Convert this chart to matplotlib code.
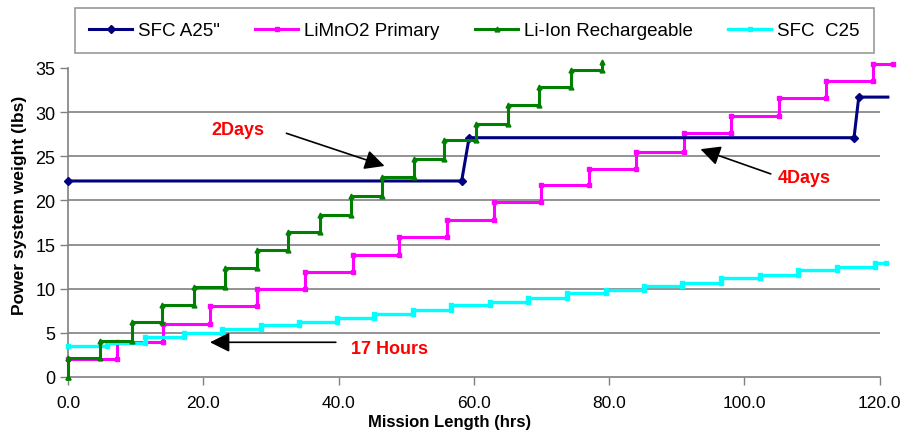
import matplotlib
matplotlib.use("Agg")
import matplotlib.pyplot as plt

plt.rcParams['font.family'] = ['Liberation Sans', 'DejaVu Sans']

# SFC A25" (data points as plotted)
a25_x = [0, 58.2, 59.3, 116.2, 116.9, 121.2]
a25_y = [22.2, 22.2, 27.1, 27.1, 31.7, 31.7]

# LiMnO2 Primary: time of each step and level after it
limno2_x = [0, 7.2, 14.1, 21.0, 28.0, 35.0, 42.1, 49.0, 56.0, 63.0, 70.0, 77.0,
            83.9, 91.1, 98.0, 105.1, 112.0, 119.0]
limno2_y = [2.0, 4.0, 6.0, 8.0, 9.95, 11.9, 13.8, 15.9, 17.8, 19.8, 21.75, 23.6,
            25.5, 27.6, 29.6, 31.6, 33.5, 35.4]
limno2_end = 122.0

# Li-Ion Rechargeable
liion_x = [0, 0, 4.7, 9.4, 13.9, 18.6, 23.2, 27.9, 32.5, 37.2, 41.8, 46.4, 51.1,
           55.6, 60.3, 65.0, 69.7, 74.3, 79.0]
liion_y = [0, 2.1, 4.1, 6.2, 8.2, 10.2, 12.3, 14.4, 16.4, 18.4, 20.5, 22.6, 24.7,
           26.8, 28.7, 30.8, 32.9, 34.8, 35.7]
liion_end = 79.0

# SFC C25
c25_x = [0, 5.7, 11.4, 17.1, 22.8, 28.5, 34.2, 39.7, 45.3, 51.0, 56.6, 62.4,
         68.0, 73.8, 79.5, 85.2, 90.8, 96.6, 102.3, 107.9, 113.7, 119.3]
c25_y = [3.5, 3.9, 4.5, 5.0, 5.4, 5.9, 6.2, 6.65, 7.1, 7.6, 8.1, 8.5,
         9.0, 9.5, 9.9, 10.3, 10.7, 11.2, 11.6, 12.1, 12.5, 12.9]
c25_end = 121.0

xticks = [0, 20, 40, 60, 80, 100, 120]
yticks = [0, 5, 10, 15, 20, 25, 30, 35]


def stairs(xs, ys, x_end):
    # corner points of the staircase, one data point at each corner
    px, py = [], []
    for i in range(len(xs)):
        if i > 0:
            px.append(xs[i])
            py.append(ys[i - 1])
        px.append(xs[i])
        py.append(ys[i])
    if x_end > xs[-1]:
        px.append(x_end)
        py.append(ys[-1])
    return px, py


fig = plt.figure(figsize=(9.06, 4.31), dpi=100)
ax = fig.add_axes([0.075, 0.123, 0.896, 0.717])

ax.plot(a25_x, a25_y, color='#000080', lw=2.2, marker='D', ms=4,
        markevery=[0, 1, 2, 3, 4], label='SFC A25"', clip_on=False, zorder=4)

px, py = stairs(limno2_x, limno2_y, limno2_end)
ax.plot(px, py, color='#FF00FF', lw=2.2, marker='s', ms=3,
        label='LiMnO2 Primary', clip_on=False, zorder=3)

px, py = stairs(liion_x, liion_y, liion_end)
ax.plot(px, py, color='#008000', lw=2.2, marker='^', ms=3.5,
        label='Li-Ion Rechargeable', clip_on=False, zorder=5)

px, py = stairs(c25_x, c25_y, c25_end)
ax.plot(px, py, color='#00FFFF', lw=2.4, marker='s', ms=3,
        label='SFC  C25', clip_on=False, zorder=3)

ax.set_xlim(0, 120)
ax.set_ylim(0, 35)
ax.set_xticks(xticks)
ax.set_xticklabels(['%.1f' % v for v in xticks], fontsize=12.5)
ax.set_yticks(yticks)
ax.set_yticklabels([str(v) for v in yticks], fontsize=13)
ax.tick_params(axis='both', direction='out', color='#808080', length=6, width=1)
ax.tick_params(axis='x', pad=7)
ax.tick_params(axis='y', pad=3)

for v in yticks[1:-1]:
    ax.axhline(v, color='#808080', lw=1.2, zorder=1)

for s in ['top', 'right']:
    ax.spines[s].set_visible(False)
for s in ['left', 'bottom']:
    ax.spines[s].set_color('#808080')
    ax.spines[s].set_linewidth(1.2)

ax.set_xlabel('Mission Length (hrs)', fontsize=12, fontweight='bold')
ax.xaxis.set_label_coords(0.47, -0.12)
ax.set_ylabel('Power system weight (lbs)', fontsize=12.5, fontweight='bold')
ax.yaxis.set_label_coords(-0.05, 0.56)

arrow = dict(arrowstyle='-|>', color='black', lw=1.2, mutation_scale=30,
             shrinkA=0, shrinkB=0)
ax.annotate('', xy=(46.8, 23.9), xytext=(32.3, 27.6), arrowprops=arrow, zorder=6)
ax.text(25.1, 28.0, '2Days', color='#FF0000', fontsize=13, fontweight='bold',
        ha='center', va='center')
ax.annotate('', xy=(93.5, 25.8), xytext=(103.9, 23.0), arrowprops=arrow, zorder=6)
ax.text(108.8, 22.6, '4Days', color='#FF0000', fontsize=13, fontweight='bold',
        ha='center', va='center')
ax.annotate('', xy=(21.0, 3.93), xytext=(39.6, 3.93), arrowprops=arrow, zorder=6)
ax.text(47.5, 3.2, '17 Hours', color='#FF0000', fontsize=13, fontweight='bold',
        ha='center', va='center')

leg = fig.legend(loc='upper left', bbox_to_anchor=(75 / 906, 1 - 9 / 431), ncol=4,
                 frameon=True, fancybox=False, edgecolor='#808080', fontsize=13.5,
                 handlelength=2.3, columnspacing=1.9, handletextpad=0.3,
                 borderpad=0.75, borderaxespad=0)
leg.get_frame().set_linewidth(1.2)

fig.savefig('out.png', dpi=100)
